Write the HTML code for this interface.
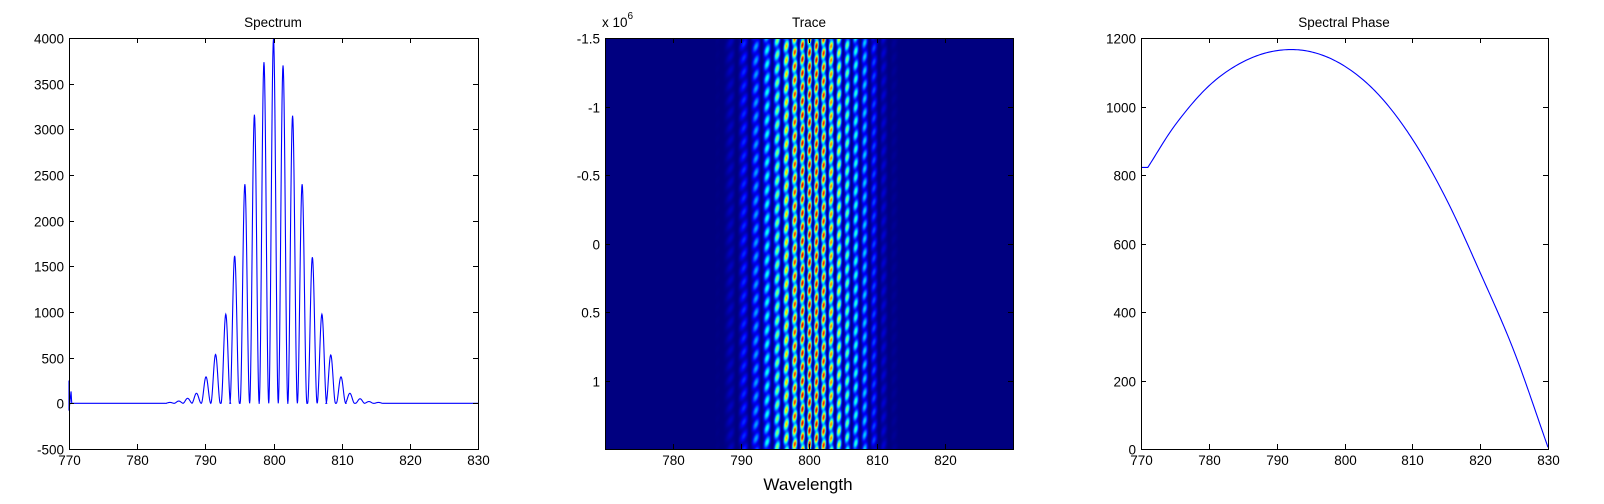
<!DOCTYPE html>
<html><head><meta charset="utf-8">
<style>
html,body{margin:0;padding:0;background:#fff;}
#wrap{position:relative;width:1604px;height:504px;overflow:hidden;background:#fff;font-family:"Liberation Sans",sans-serif;}
#heat{position:absolute;left:605px;top:38px;}
svg{position:absolute;left:0;top:0;}
text{font-family:"Liberation Sans",sans-serif;font-size:13.5px;fill:#000;}
</style></head>
<body>
<div id="wrap">
<canvas id="heat" width="408" height="411"></canvas>
<svg id="svg" width="1604" height="504"></svg>
</div>
<script>
// ---- Spectrum data ----
const specPeakWl = [784.8,786.1,787.4,788.7,790.1,791.5,793.0,794.3,795.8,797.2,798.6,800.0,801.4,802.8,804.2,805.7,807.1,808.4,809.9,811.2,812.7,814.0,815.4];
const specPeakVal = [10,25,55,110,290,535,975,1615,2400,3160,3735,3990,3700,3150,2400,1600,975,530,290,110,50,20,10];
const specSpikeVals = [250,-80,130,0];
const specYTicks = [-500,0,500,1000,1500,2000,2500,3000,3500,4000];
const wlTicks = [770,780,790,800,810,820,830];
// ---- Trace data ----
const traceWl = [786,788,790,791,792,793,794,795,796,797,798,799,800,801,802,803,804,805,806,807,808,809,810,811,812,814];
const traceAmp = [0,0.05,0.15,0.22,0.28,0.35,0.42,0.5,0.62,0.75,0.88,0.95,1.0,0.95,0.9,0.8,0.65,0.55,0.48,0.42,0.35,0.25,0.15,0.08,0.03,0];
const traceYTicks = [-1.5,-1,-0.5,0,0.5,1];
const traceXTicks = [780,790,800,810,820];
// ---- Phase data ----
const phaseWl = [770,771,775,780,785,790,795,800,805,810,815,820,825,830];
const phaseVal = [822,822,945,1060,1130,1163,1160,1118,1035,905,730,515,285,5];
const phaseYTicks = [0,200,400,600,800,1000,1200];

const NS="http://www.w3.org/2000/svg";
const svg=document.getElementById('svg');
function el(tag,attrs,parent){const e=document.createElementNS(NS,tag);for(const k in attrs)e.setAttribute(k,attrs[k]);(parent||svg).appendChild(e);return e;}
function txt(s,x,y,anchor,parent,size){const t=el('text',{x:x,y:y,'text-anchor':anchor||'middle'},parent);if(size)t.setAttribute('style','font-size:'+size+'px');t.textContent=s;return t;}

const T=38,B=449;
function makeAxes(name,L,R,x0,x1,y0,y1){
  const g=el('g',{});
  
  
  const sx=v=>L+(v-x0)/(x1-x0)*(R-L);
  const sy=v=>B-(v-y0)/(y1-y0)*(B-T);
  return {g,sx,sy,L,R};
}
function frame(ax,name,xt,yt,ylab){
  const {g,sx,sy,L,R}=ax;
  const box=el('rect',{x:L+0.5,y:T+0.5,width:R-L,height:B-T,fill:'none',stroke:'#000','stroke-width':1},g);
  
  
  xt.forEach(v=>{const x=Math.round(sx(v))+0.5;
    el('line',{x1:x,x2:x,y1:B,y2:B-5,stroke:'#000'},g);
    el('line',{x1:x,x2:x,y1:T,y2:T+5,stroke:'#000'},g);
    const t=txt(String(v),x,B+16,'middle',g);
    
    });
  yt.forEach((v,i)=>{const y=Math.round(sy(v))+0.5;
    el('line',{x1:L,x2:L+5,y1:y,y2:y,stroke:'#000'},g);
    el('line',{x1:R,x2:R-5,y1:y,y2:y,stroke:'#000'},g);
    const t=txt(ylab?ylab[i]:String(v),L-5,y+5,'end',g);
    
    });
}

// ---- Spectrum ----
const a1=makeAxes('spectrum-axes',69,478,770,830,-500,4000);
const tt1=txt('Spectrum',273,27,'middle',a1.g);


(function(){
  let d='M'+a1.sx(770)+','+a1.sy(specSpikeVals[0]);
  d+=' L'+a1.sx(770)+','+a1.sy(specSpikeVals[1]);
  d+=' L'+a1.sx(770.3)+','+a1.sy(specSpikeVals[2]);
  d+=' L'+a1.sx(770.4)+','+a1.sy(specSpikeVals[3]);
  d+=' L'+a1.sx(specPeakWl[0]-0.7)+','+a1.sy(0);
  specPeakWl.forEach((c,i)=>{
    for(let k=-14;k<=14;k++){const w=c+k*0.05;const f=Math.cos(Math.PI*(w-c)/1.4);
      d+=' L'+a1.sx(w).toFixed(2)+','+a1.sy(specPeakVal[i]*f*f).toFixed(2);}
  });
  d+=' L'+a1.sx(830)+','+a1.sy(0);
  const p=el('path',{d:d,fill:'none',stroke:'#0000ff','stroke-width':1.1},a1.g);
  
  
})();
frame(a1,'spectrum',wlTicks,specYTicks);

// ---- Trace ----
const a2=makeAxes('trace-axes',605,1013,770,830,1.5,-1.5);
a2.sy=v=>T+(v+1.5)/3*(B-T);
const tt2=txt('Trace',809,27,'middle',a2.g);


const ex=el('text',{x:602,y:27},a2.g);


ex.innerHTML='x 10<tspan dy="-8" style="font-size:10px">6</tspan>';
frame(a2,'trace',traceXTicks,traceYTicks);
const xl=txt('Wavelength',808,490,'middle',a2.g,17);



function interp(xs,ys,x){if(x<=xs[0])return ys[0];if(x>=xs[xs.length-1])return ys[ys.length-1];
  for(let i=0;i<xs.length-1;i++)if(x<=xs[i+1]){const t=(x-xs[i])/(xs[i+1]-xs[i]);return ys[i]+t*(ys[i+1]-ys[i]);}}
function spline(xs,ys,x){if(x<=xs[0])return ys[0];if(x>=xs[xs.length-1])return ys[ys.length-1];
  let i=0;while(x>xs[i+1])i++;
  const x0=xs[i],x1=xs[i+1],h=x1-x0,t=(x-x0)/h;
  const slope=j=>{if(j<=1)return (ys[2]-ys[1])/(xs[2]-xs[1]);if(j>=xs.length-1){const n=xs.length-1;return (ys[n]-ys[n-1])/(xs[n]-xs[n-1]);}
    return (ys[j+1]-ys[j-1])/(xs[j+1]-xs[j-1]);};
  let m0=slope(i)*h,m1=slope(i+1)*h;
  if(i===0){m0=0;m1=0;}
  const t2=t*t,t3=t2*t;
  return (2*t3-3*t2+1)*ys[i]+(t3-2*t2+t)*m0+(-2*t3+3*t2)*ys[i+1]+(t3-t2)*m1;}
function jet(v){v=Math.max(0,Math.min(1,v));
  const r=Math.max(0,Math.min(1,1.5-Math.abs(4*v-3)));
  const g=Math.max(0,Math.min(1,1.5-Math.abs(4*v-2)));
  const b=Math.max(0,Math.min(1,1.5-Math.abs(4*v-1)));
  return [r*255,g*255,b*255];}
(function(){
  const c=document.getElementById('heat');const ctx=c.getContext('2d');
  const W=c.width,H=c.height;const img=ctx.createImageData(W,H);
  for(let x=0;x<W;x++){
    const wl=770+x/(W)*60;
    const A=interp(traceWl,traceAmp,wl);
    const P=wl<800?1.4-0.4*(wl-790)/10:1.0+0.2*(wl-800)/10;
    const s=Math.cos(Math.PI*(wl-800)/P);const vs=s*s;
    for(let y=0;y<H;y++){
      const m=0.5+0.5*Math.cos(2*Math.PI*(y/14)+2*Math.PI*(wl-800)/2.2);
      const v=A*(0.35*vs+0.65*vs*m);
      const col=jet(v);
      const i=(y*W+x)*4;img.data[i]=col[0];img.data[i+1]=col[1];img.data[i+2]=col[2];img.data[i+3]=255;}
  }
  ctx.putImageData(img,0,0);
})();

// ---- Phase ----
const a3=makeAxes('phase-axes',1141,1548,770,830,0,1200);
const tt3=txt('Spectral Phase',1344,27,'middle',a3.g);


(function(){
  let d='';
  for(let w=770;w<=830.001;w+=0.25){
    const v=spline(phaseWl,phaseVal,w);
    d+=(d?' L':'M')+a3.sx(w).toFixed(2)+','+a3.sy(v).toFixed(2);}
  const p=el('path',{d:d,fill:'none',stroke:'#0000ff','stroke-width':1.1},a3.g);
  
  
})();
frame(a3,'phase',wlTicks,phaseYTicks);
</script>
</body></html>
